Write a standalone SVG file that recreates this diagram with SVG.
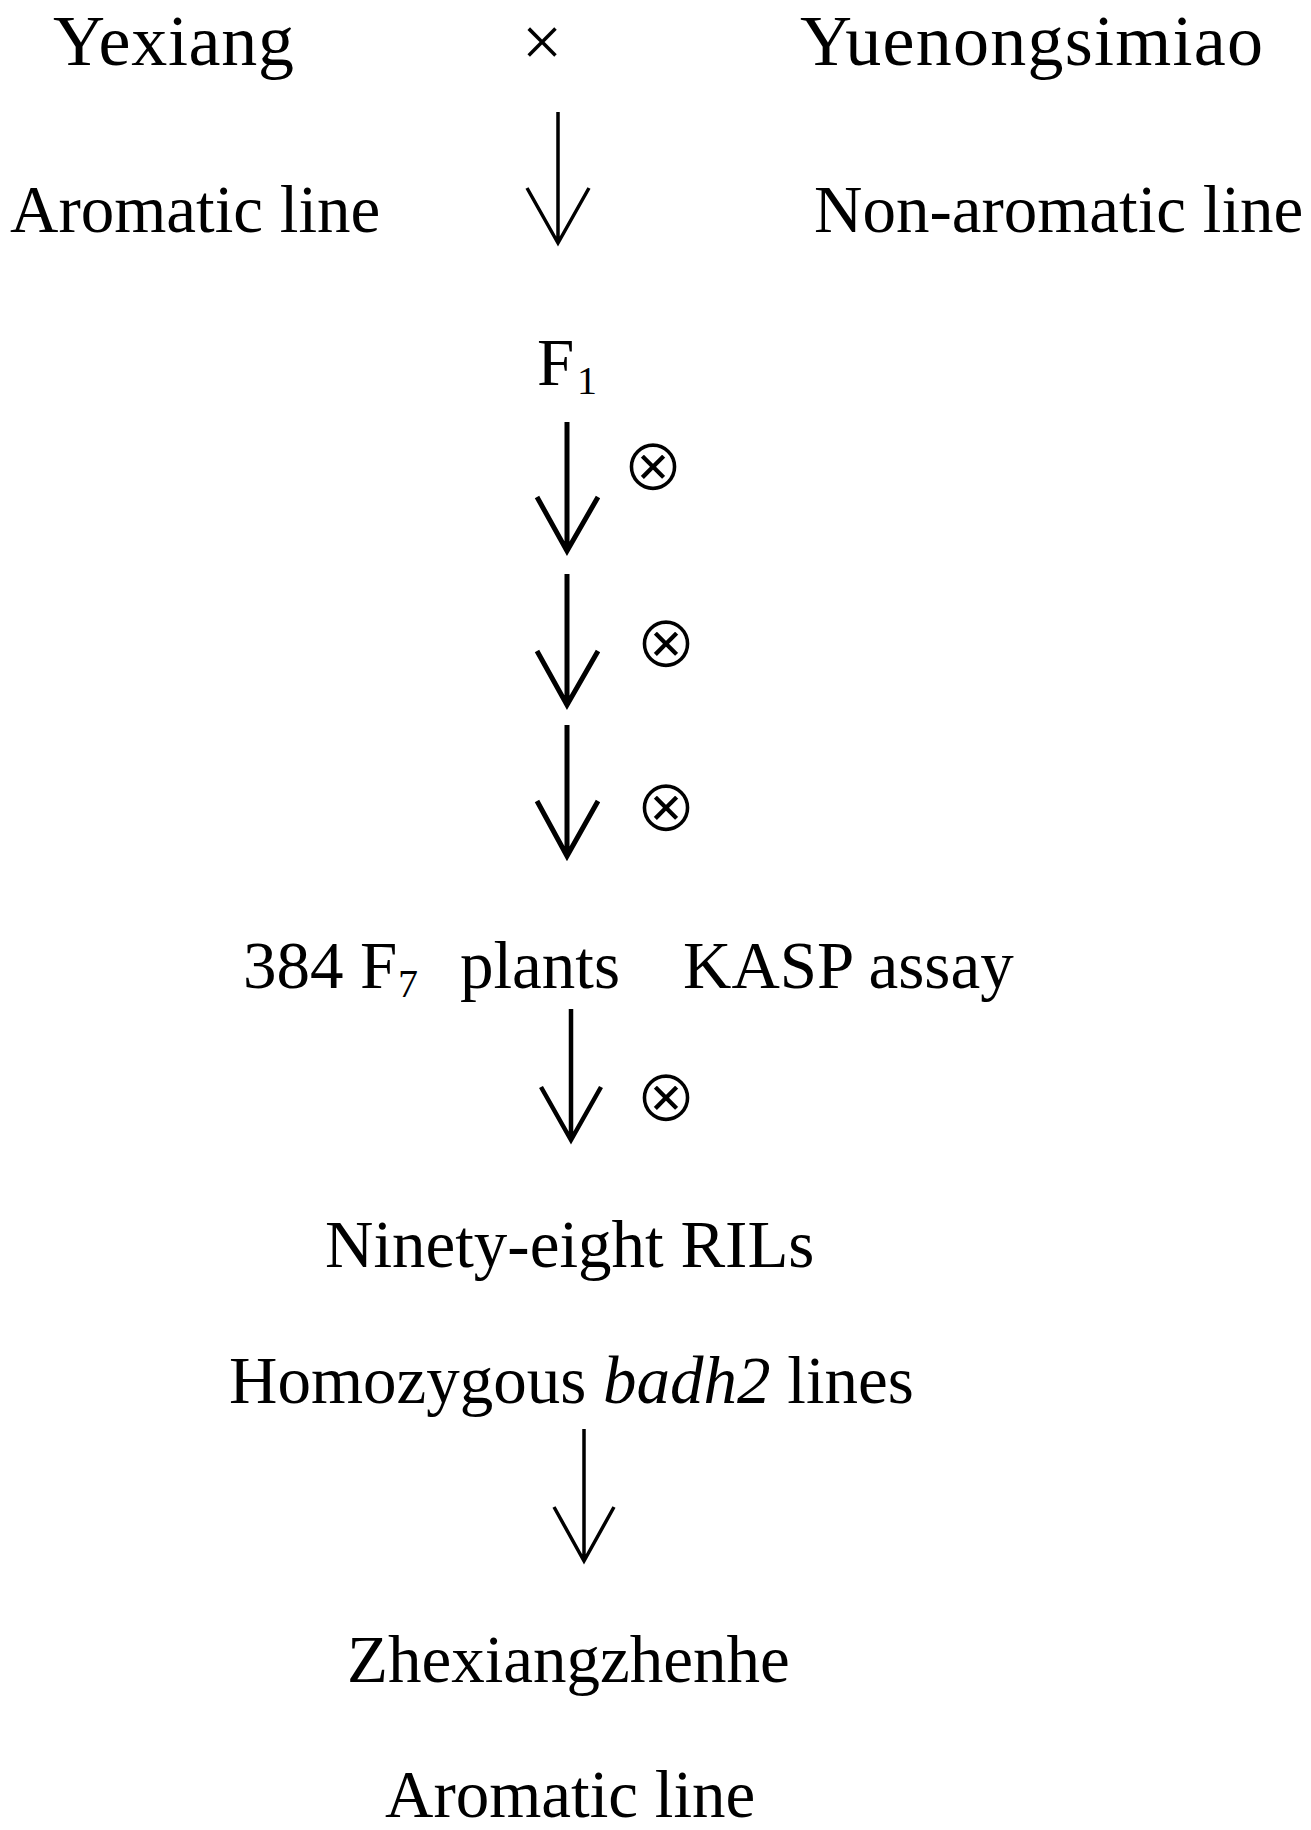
<svg xmlns="http://www.w3.org/2000/svg" width="1311" height="1830" viewBox="0 0 1311 1830">
<style>
text{font-family:"Liberation Serif","Times New Roman",serif;fill:#000;}
.t74{font-size:72px;}
.t66{font-size:67px;}
.sub{font-size:40px;}
.sym{font-family:"DejaVu Sans",sans-serif;font-size:74px;text-anchor:middle;stroke:#fff;stroke-width:1.8px;}
.ar{fill:none;stroke:#000;stroke-linecap:butt;stroke-linejoin:miter;}
</style>
<rect width="1311" height="1830" fill="#fff"/>
<g id="yexiang"><text class="t74" x="53" y="65" textLength="241">Yexiang</text></g>
<g id="cross"><text x="542" y="66" font-size="72" text-anchor="middle">×</text></g>
<g id="yuenongsimiao"><text class="t74" x="800" y="65" textLength="463">Yuenongsimiao</text></g>
<g id="aromatic-left"><text class="t66" x="10" y="232">Aromatic line</text></g>
<g id="non-aromatic"><text class="t66" x="814" y="232">Non-aromatic line</text></g>
<g id="f1"><text class="t66" x="537" y="385">F</text><text class="sub" x="577" y="394">1</text></g>
<g id="f7"><text class="t66" x="243" y="988">384</text><text class="t66" x="360" y="988">F</text><text class="sub" x="398" y="997">7</text><text class="t66" x="460" y="988">plants</text><text class="t66" x="683" y="988">KASP assay</text></g>
<g id="rils"><text class="t66" x="325" y="1267">Ninety-eight RILs</text></g>
<g id="homozygous"><text class="t66" x="229" y="1403">Homozygous <tspan font-style="italic">badh2</tspan> lines</text></g>
<g id="zhexiangzhenhe"><text class="t66" x="347" y="1682">Zhexiangzhenhe</text></g>
<g id="aromatic-bottom"><text class="t66" x="385" y="1817">Aromatic line</text></g>
<g id="selfing">
<text class="sym" x="653" y="490">⊗</text>
<text class="sym" x="666" y="667">⊗</text>
<text class="sym" x="666" y="831">⊗</text>
<text class="sym" x="666" y="1121">⊗</text>
</g>
<g id="connectors">
<path class="ar" stroke-width="3.5" d="M558 112V243M527 188L558 243L589 188"/>
<path class="ar" stroke-width="5" d="M567 422V551M537 497L567 551L598 497"/>
<path class="ar" stroke-width="5" d="M567 574V705M537 651L567 705L598 651"/>
<path class="ar" stroke-width="5" d="M567 725V856M537 801L567 856L598 801"/>
<path class="ar" stroke-width="4.5" d="M571 1009V1140M541 1087L571 1140L601 1087"/>
<path class="ar" stroke-width="3.5" d="M584 1429V1561M554 1507L584 1561L614 1507"/>
</g>
</svg>
